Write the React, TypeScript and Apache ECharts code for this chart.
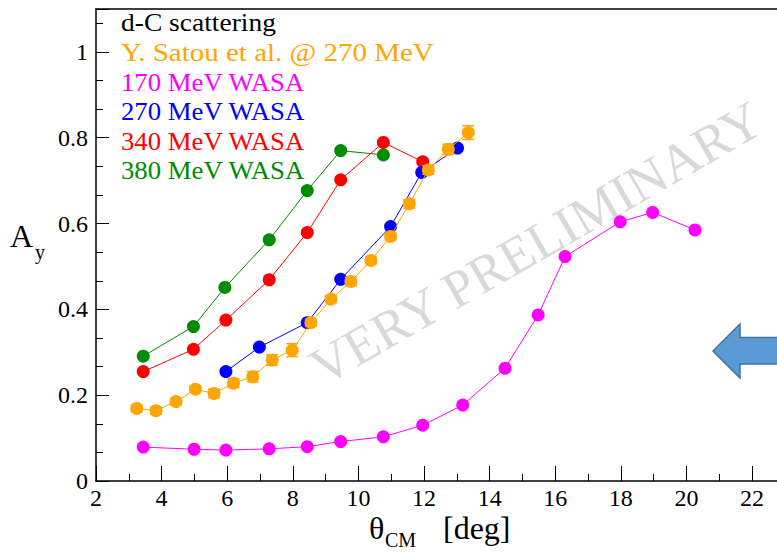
import React, { useEffect, useRef } from "react";
import * as echarts from "echarts";

const FONT = "'Liberation Serif', 'Times New Roman', serif";

// Y. Satou et al. @ 270 MeV (orange), with vertical errors
const satouX = [3.24, 3.83, 4.44, 5.03, 5.6, 6.19, 6.78, 7.37, 7.98, 8.55, 9.16, 9.77, 10.38, 10.98, 11.55, 12.13, 12.74, 13.35];
const satouY = [0.169, 0.164, 0.185, 0.214, 0.204, 0.228, 0.243, 0.282, 0.305, 0.369, 0.424, 0.465, 0.514, 0.57, 0.646, 0.725, 0.773, 0.812];
const satouErr = [0.008, 0.008, 0.008, 0.008, 0.01, 0.01, 0.012, 0.012, 0.015, 0.008, 0.008, 0.01, 0.008, 0.008, 0.01, 0.01, 0.012, 0.016];

// 170 MeV WASA (magenta)
const w170X = [3.44, 4.99, 5.96, 7.28, 8.44, 9.46, 10.76, 11.96, 13.18, 14.47, 15.48, 16.3, 17.98, 18.97, 20.26];
const w170Y = [0.079, 0.074, 0.072, 0.075, 0.08, 0.092, 0.103, 0.13, 0.177, 0.263, 0.387, 0.523, 0.604, 0.626, 0.585];

// 270 MeV WASA (blue)
const w270X = [5.96, 6.98, 8.44, 9.46, 10.98, 11.93, 13.02];
const w270Y = [0.255, 0.312, 0.369, 0.47, 0.593, 0.719, 0.776];

// 340 MeV WASA (red)
const w340X = [3.44, 4.97, 5.96, 7.28, 8.44, 9.46, 10.76, 11.96];
const w340Y = [0.255, 0.307, 0.375, 0.469, 0.579, 0.702, 0.789, 0.744];

// 380 MeV WASA (green)
const w380X = [3.44, 4.97, 5.93, 7.28, 8.44, 9.46, 10.76];
const w380Y = [0.291, 0.36, 0.451, 0.562, 0.677, 0.77, 0.76];

const legendLines = ["d-C scattering", "Y. Satou et al. @ 270 MeV", "170 MeV WASA", "270 MeV WASA", "340 MeV WASA", "380 MeV WASA"];
const legendColors = ["#000000", "#FFA500", "#FF00FF", "#0000FF", "#FF0000", "#008C00"];

const pairs = (xs: number[], ys: number[]) => xs.map((x, i) => [x, ys[i]]);

export default function App() {
  const ref = useRef<HTMLDivElement>(null);
  useEffect(() => {
    document.body.style.margin = "0";
    const chart = echarts.init(ref.current!, null, { renderer: "svg" });
    const mkLine = (name: string, xs: number[], ys: number[], color: string, z = 3) => ({
      name,
      type: "line",
      data: pairs(xs, ys),
      symbol: "circle",
      symbolSize: 13,
      z,
      itemStyle: { color },
      lineStyle: { color, width: 1 },
    });
    const legendMid = [23, 53, 83, 112, 142, 171];
    const legendScale = [1.1, 1.16, 1.07, 1.07, 1.07, 1.07];
    const txt = (text: string, x: number, y: number, size: number, fill: string, extra: any = {}) => ({
      type: "text",
      x,
      y,
      ...extra,
      style: { text, fontFamily: FONT, fontSize: size, fill, align: "left", verticalAlign: "middle" },
    });
    const graphics: any[] = [
      {
        type: "text",
        x: 536,
        y: 243,
        rotation: Math.PI / 6,
        z: -10,
        style: { text: "VERY PRELIMINARY", fontFamily: FONT, fontSize: 53, fill: "#d9d9d9", align: "center", verticalAlign: "middle" },
      },
      ...legendLines.map((t, i) => txt(t, 121, legendMid[i], 25, legendColors[i], { scaleX: legendScale[i] })),
      txt("A", 10, 236, 32, "#000"),
      txt("y", 35, 252, 20, "#000"),
      txt("θ", 369, 528, 32, "#000"),
      txt("CM", 385, 540, 20, "#000"),
      txt("[deg]", 443, 528, 32, "#000"),
      {
        type: "polygon",
        z: 20,
        shape: {
          points: [
            [713, 351],
            [740, 324],
            [740, 337.5],
            [800, 337.5],
            [800, 364],
            [740, 364],
            [740, 378],
          ],
        },
        style: { fill: "#5B9BD5", stroke: "#41719C", lineWidth: 1.5 },
      },
    ];

    chart.setOption({
      animation: false,
      backgroundColor: "#ffffff",
      grid: { left: 96, top: 9, width: 681, height: 472, containLabel: false },
      xAxis: [
        {
          type: "value",
          min: 2,
          max: 22.76,
          interval: 2,
          axisLine: { show: true, lineStyle: { color: "#000", width: 1.5 } },
          axisTick: { show: true, inside: true, length: 15, lineStyle: { color: "#000", width: 1 } },
          minorTick: { show: true, splitNumber: 2, length: 7, lineStyle: { color: "#000", width: 1 } },
          splitLine: { show: false },
          axisLabel: { show: true, showMaxLabel: false, margin: 5, color: "#000", fontFamily: FONT, fontSize: 24 },
        },
        {
          type: "value",
          position: "top",
          min: 2,
          max: 22.76,
          axisLine: { show: true, lineStyle: { color: "#000", width: 1.5 } },
          axisTick: { show: false },
          axisLabel: { show: false },
          splitLine: { show: false },
        },
      ],
      yAxis: {
        type: "value",
        min: 0,
        max: 1.1,
        interval: 0.2,
        axisLine: { show: true, lineStyle: { color: "#000", width: 1.5 } },
        axisTick: { show: true, inside: true, length: 13, lineStyle: { color: "#000", width: 1 } },
        minorTick: { show: true, splitNumber: 3, length: 7, lineStyle: { color: "#000", width: 1 } },
        splitLine: { show: false },
        axisLabel: { show: true, showMaxLabel: false, margin: 8, color: "#000", fontFamily: FONT, fontSize: 24 },
      },
      graphic: graphics,
      series: [
        mkLine("380 MeV WASA", w380X, w380Y, "#008C00"),
        mkLine("340 MeV WASA", w340X, w340Y, "#FF0000"),
        mkLine("270 MeV WASA", w270X, w270Y, "#0000FF"),
        mkLine("170 MeV WASA", w170X, w170Y, "#FF00FF"),
        mkLine("Y. Satou et al. @ 270 MeV", satouX, satouY, "#FFA500", 4),
        {
          name: "Satou errors",
          type: "custom",
          z: 5,
          data: satouX.map((x, i) => [x, satouY[i], satouErr[i]]),
          encode: { x: 0, y: 1 },
          renderItem: (params: any, api: any) => {
            const x = api.value(0);
            const y = api.value(1);
            const e = api.value(2);
            const top = api.coord([x, y + e]);
            const bot = api.coord([x, y - e]);
            const hw = 6;
            const st = { stroke: "#FFA500", lineWidth: 1.5 };
            return {
              type: "group",
              children: [
                { type: "line", shape: { x1: top[0], y1: top[1], x2: bot[0], y2: bot[1] }, style: st },
                { type: "line", shape: { x1: top[0] - hw, y1: top[1], x2: top[0] + hw, y2: top[1] }, style: st },
                { type: "line", shape: { x1: bot[0] - hw, y1: bot[1], x2: bot[0] + hw, y2: bot[1] }, style: st },
              ],
            };
          },
        },
      ],
    });
    return () => chart.dispose();
  }, []);
  return <div ref={ref} style={{ position: "absolute", left: 0, top: 0, width: 777, height: 552 }} />;
}
